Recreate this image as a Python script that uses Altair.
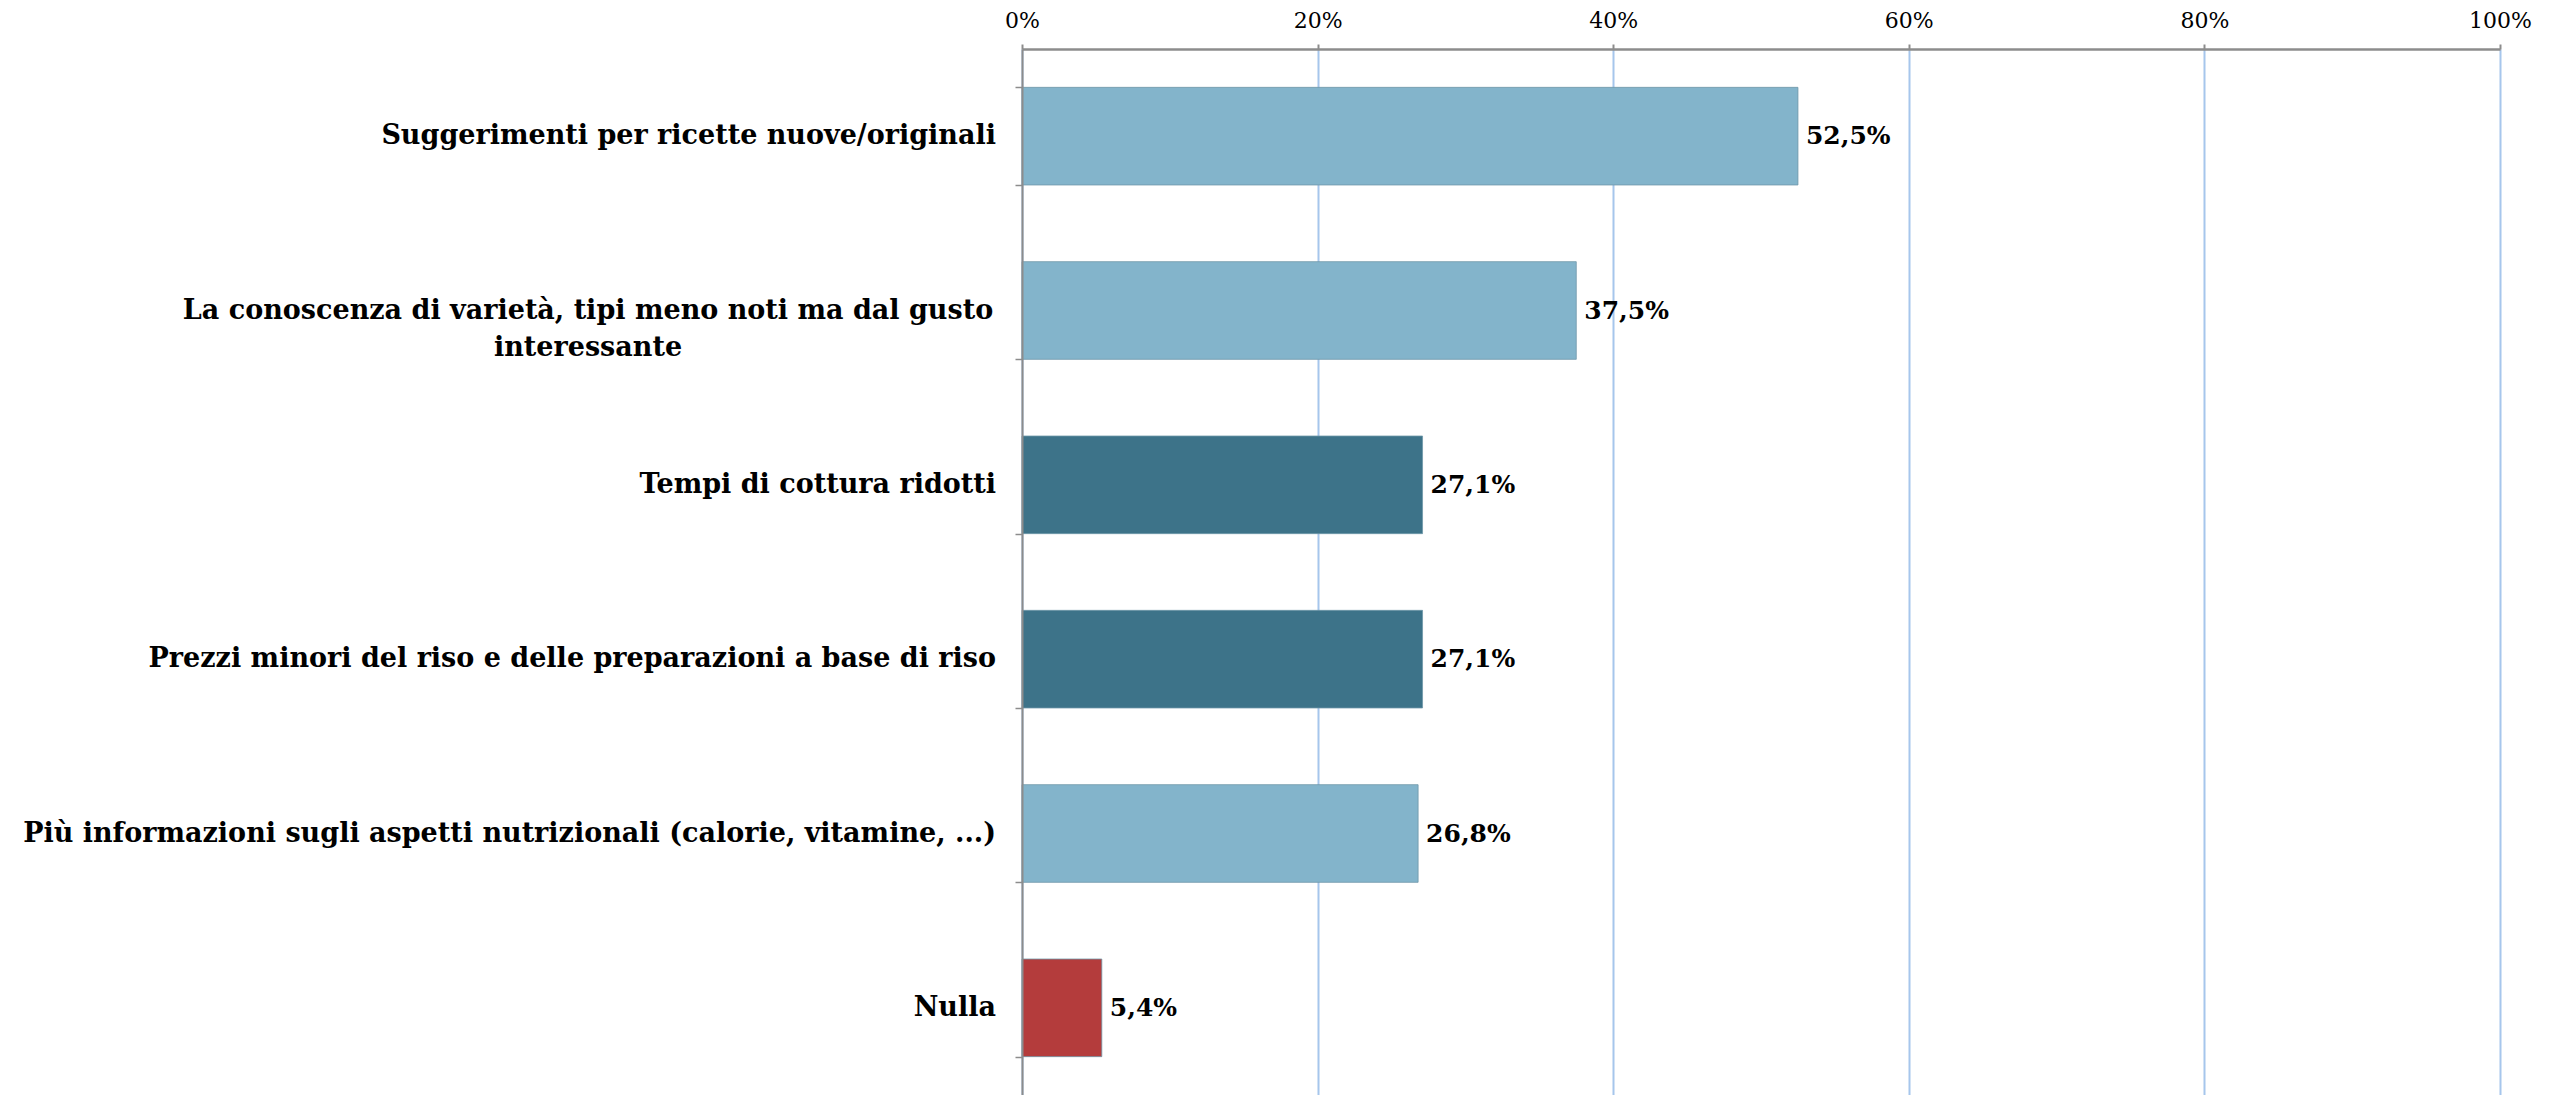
import altair as alt
import pandas as pd

categories = [
    "Suggerimenti per ricette nuove/originali",
    "La conoscenza di varietà, tipi meno noti ma dal gusto|interessante",
    "Tempi di cottura ridotti",
    "Prezzi minori del riso e delle preparazioni a base di riso",
    "Più informazioni sugli aspetti nutrizionali (calorie, vitamine, ...)",
    "Nulla",
]
values = [52.5, 37.5, 27.1, 27.1, 26.8, 5.4]
bar_colors = ["#83B4CB", "#83B4CB", "#3D7389", "#3D7389", "#83B4CB", "#B43C3C"]
x_ticks = [0, 0.2, 0.4, 0.6, 0.8, 1.0]

df = pd.DataFrame({
    "cat": categories,
    "val": [v / 100 for v in values],
    "color": bar_colors,
    "label": [f"{v:.1f}".replace(".", ",") + "%" for v in values],
    "multi": ["|" in c for c in categories],
})

FONT = "DejaVu Serif"

y_scale = alt.Scale(domain=categories, paddingInner=0.44, paddingOuter=0.22)

y_enc = alt.Y(
    "cat:N",
    sort=categories,
    scale=y_scale,
    axis=alt.Axis(
        title=None,
        labels=False,
        tickBand="extent",
        tickSize=7,
        tickColor="#8C8C8C",
        tickWidth=1.5,
        domainColor="#8C8C8C",
        domainWidth=2,
        grid=False,
        zindex=1,
    ),
)

x_enc = alt.X(
    "val:Q",
    scale=alt.Scale(domain=[0, 1], nice=False),
    axis=alt.Axis(
        orient="top",
        title=None,
        format=".0%",
        values=x_ticks,
        labelFont=FONT,
        labelFontSize=22,
        labelColor="#000000",
        labelPadding=12,
        labelFlush=False,
        tickSize=5,
        tickWidth=2,
        tickColor="#8C8C8C",
        domainColor="#8C8C8C",
        domainWidth=2.5,
        grid=True,
        gridColor="#A6C6EC",
        gridWidth=2,
    ),
)

bars = alt.Chart(df).mark_bar(stroke="#6E97A8", strokeWidth=0.8).encode(
    x=x_enc,
    y=y_enc,
    color=alt.Color("color:N", scale=None),
)

values_text = alt.Chart(df).mark_text(
    align="left", baseline="middle", dx=8, font=FONT, fontWeight="bold", fontSize=25, color="#000000"
).encode(
    x=alt.X("val:Q"),
    y=alt.Y("cat:N", sort=categories),
    text="label:N",
)

cat_single = alt.Chart(df).transform_filter("!datum.multi").mark_text(
    align="right", baseline="middle", font=FONT, fontWeight="bold", fontSize=27, color="#000000"
).encode(
    x=alt.value(-26),
    y=alt.Y("cat:N", sort=categories),
    text="cat:N",
)

cat_multi = alt.Chart(df).transform_filter("datum.multi").mark_text(
    align="center", baseline="middle", lineBreak="|", lineHeight=37,
    font=FONT, fontWeight="bold", fontSize=27, color="#000000"
).encode(
    x=alt.value(-434),
    y=alt.Y("cat:N", sort=categories),
    text="cat:N",
)

chart = (
    alt.layer(bars, values_text, cat_single, cat_multi)
    .properties(
        width=1478,
        height=1046,
        autosize=alt.AutoSizeParams(type="none"),
        padding={"left": 1014, "top": 41, "right": 40, "bottom": 0},
    )
    .configure_view(stroke=None)
    .configure(background="#FFFFFF")
)

chart.save("out.html", embed_options={"renderer": "svg", "actions": False})
